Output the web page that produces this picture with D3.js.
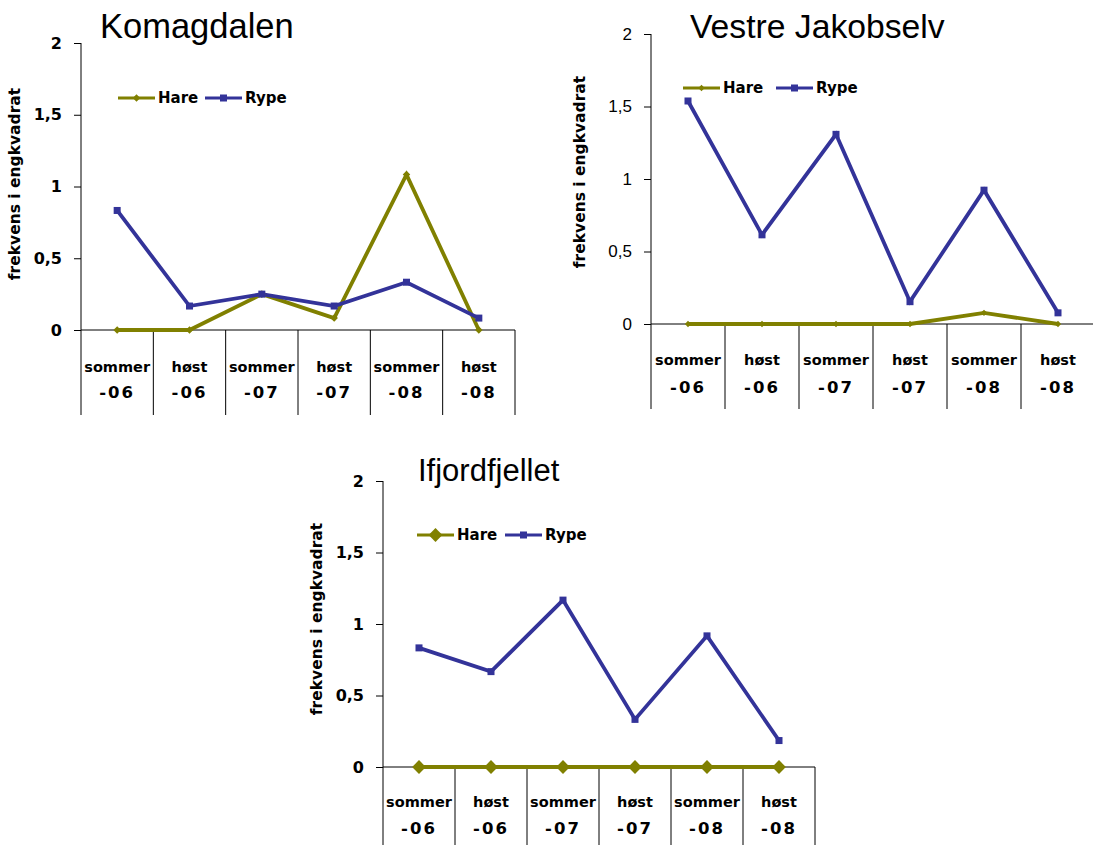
<!DOCTYPE html>
<html><head><meta charset="utf-8">
<script src="https://cdnjs.cloudflare.com/ajax/libs/d3/7.8.5/d3.min.js"></script>
<style>body{margin:0;background:#fff}svg{display:block}</style>
</head><body><svg id="c" width="1093" height="845"></svg>
<script>
const catTop = ["sommer","høst","sommer","høst","sommer","høst"];
const catBottom = ["-06","-06","-07","-07","-08","-08"];
const yTicks = [0,0.5,1,1.5,2];
const seriesNames = ["Hare","Rype"];
const komagHare = [0,0,0.25,0.083,1.083,0];
const komagRype = [0.833,0.167,0.25,0.167,0.333,0.083];
const vestreHare = [0,0,0,0,0.077,0];
const vestreRype = [1.538,0.615,1.308,0.154,0.923,0.077];
const ifjordHare = [0,0,0,0,0,0];
const ifjordRype = [0.833,0.667,1.167,0.333,0.917,0.185];
const titles = ["Komagdalen","Vestre Jakobselv","Ifjordfjellet"];
const yLabel = "frekvens i engkvadrat";

const colors = {Hare:"#808000", Rype:"#333399"};
const svg = d3.select("#c");
const lblFont = "'DejaVu Sans', sans-serif";

function drawChart(o){
  const g = svg.append("g");
  const x = d3.scaleBand().domain(d3.range(6)).range([o.x0,o.x1]);
  const y = d3.scaleLinear().domain([0,2]).range([o.yZero,o.yTop]);
  g.append("text").attr("x",o.tx).attr("y",o.ty).text(o.title)
    .attr("font-family","'Liberation Sans', Arial, sans-serif").attr("font-size",o.tfs).attr("fill","#000");
  const ya = d3.axisLeft(y).tickValues(yTicks).tickSize(7).tickPadding(12)
    .tickFormat(d=>String(d).replace(".",","));
  const yg = g.append("g").attr("transform",`translate(${o.x0},0)`).call(ya);
  yg.select(".domain").remove();
  yg.selectAll("line").attr("stroke","#000");
  yg.selectAll("text").attr("font-family",o.tickFont).attr("font-weight",o.tickWeight)
    .attr("font-size",o.tickSize).attr("fill","#000");
  g.append("line").attr("x1",o.x0).attr("x2",o.x0).attr("y1",o.yTop).attr("y2",o.bottom).attr("stroke","#000");
  g.append("line").attr("x1",o.x0).attr("x2",o.x1).attr("y1",o.yZero).attr("y2",o.yZero).attr("stroke","#000");
  d3.range(1,7).forEach(i=>{
    const xx = i<6 ? x(i) : o.x1;
    g.append("line").attr("x1",xx).attr("x2",xx).attr("y1",o.yZero).attr("y2",o.bottom).attr("stroke","#000");
  });
  catTop.forEach((c,i)=>{
    const cx = x(i)+x.bandwidth()/2;
    g.append("text").attr("x",cx).attr("y",o.yZero+o.l1).attr("text-anchor","middle")
      .attr("font-family",lblFont).attr("font-weight","bold").attr("font-size",14.5).attr("fill","#000").text(c);
    g.append("text").attr("x",cx).attr("y",o.yZero+o.l2).attr("text-anchor","middle")
      .attr("font-family",lblFont).attr("font-weight","bold").attr("font-size",16.5).attr("letter-spacing","2px").attr("fill","#000").text(catBottom[i]);
  });
  g.append("text").attr("transform",`translate(${o.ylx},${o.yly}) rotate(-90)`).attr("text-anchor","middle")
    .attr("font-family",lblFont).attr("font-weight","bold").attr("font-size",15.5).attr("fill","#000").text(yLabel);
  const line = d3.line().x((d,i)=>x(i)+x.bandwidth()/2).y(d=>y(d));
  const data = {Hare:o.hare, Rype:o.rype};
  seriesNames.forEach(s=>{
    g.append("path").datum(data[s]).attr("d",line).attr("fill","none")
      .attr("stroke",colors[s]).attr("stroke-width",3.8).attr("stroke-linejoin","miter");
  });
  g.selectAll(".hm").data(o.hare).join("path")
    .attr("transform",(d,i)=>`translate(${x(i)+x.bandwidth()/2},${y(d)})`)
    .attr("d",d3.symbol(d3.symbolDiamond2,o.dsz*o.dsz)).attr("fill",colors.Hare);
  g.selectAll(".rm").data(o.rype).join("rect")
    .attr("x",(d,i)=>x(i)+x.bandwidth()/2-3.5).attr("y",d=>y(d)-3.5).attr("width",7).attr("height",7).attr("fill",colors.Rype);
  const lx = o.x0+o.lgx, ly = o.yTop+o.lgy;
  g.append("line").attr("x1",lx).attr("x2",lx+37).attr("y1",ly).attr("y2",ly).attr("stroke",colors.Hare).attr("stroke-width",3);
  g.append("path").attr("transform",`translate(${lx+18.5},${ly})`).attr("d",d3.symbol(d3.symbolDiamond2,o.dsz*o.dsz)).attr("fill",colors.Hare);
  g.append("text").attr("x",lx+40).attr("y",ly+5).text(seriesNames[0])
    .attr("font-family",lblFont).attr("font-weight","bold").attr("font-size",15).attr("fill","#000");
  const rx = lx+o.rgap;
  g.append("line").attr("x1",rx).attr("x2",rx+37).attr("y1",ly).attr("y2",ly).attr("stroke",colors.Rype).attr("stroke-width",3);
  g.append("rect").attr("x",rx+15).attr("y",ly-3.5).attr("width",7).attr("height",7).attr("fill",colors.Rype);
  g.append("text").attr("x",rx+40).attr("y",ly+5).text(seriesNames[1])
    .attr("font-family",lblFont).attr("font-weight","bold").attr("font-size",15).attr("fill","#000");
}

drawChart({title:titles[0], tx:100, ty:38, tfs:34.5, x0:81, x1:515, yTop:43, yZero:330, bottom:415,
  l1:42, l2:68, ylx:20, yly:184, hare:komagHare, rype:komagRype, dsz:6, lgx:37, lgy:55, rgap:87,
  tickFont:lblFont, tickWeight:"bold", tickSize:16});
drawChart({title:titles[1], tx:690, ty:38, tfs:33.7, x0:651, x1:1095, yTop:34, yZero:324, bottom:409,
  l1:41, l2:69, ylx:585, yly:172, hare:vestreHare, rype:vestreRype, dsz:5, lgx:32, lgy:54, rgap:93,
  tickFont:"'Liberation Sans', Arial, sans-serif", tickWeight:"normal", tickSize:17});
drawChart({title:titles[2], tx:418, ty:481, tfs:31, x0:383, x1:815, yTop:481, yZero:767, bottom:845,
  l1:40, l2:67, ylx:322, yly:619, hare:ifjordHare, rype:ifjordRype, dsz:11, lgx:34, lgy:54, rgap:88,
  tickFont:lblFont, tickWeight:"bold", tickSize:16});
</script></body></html>
